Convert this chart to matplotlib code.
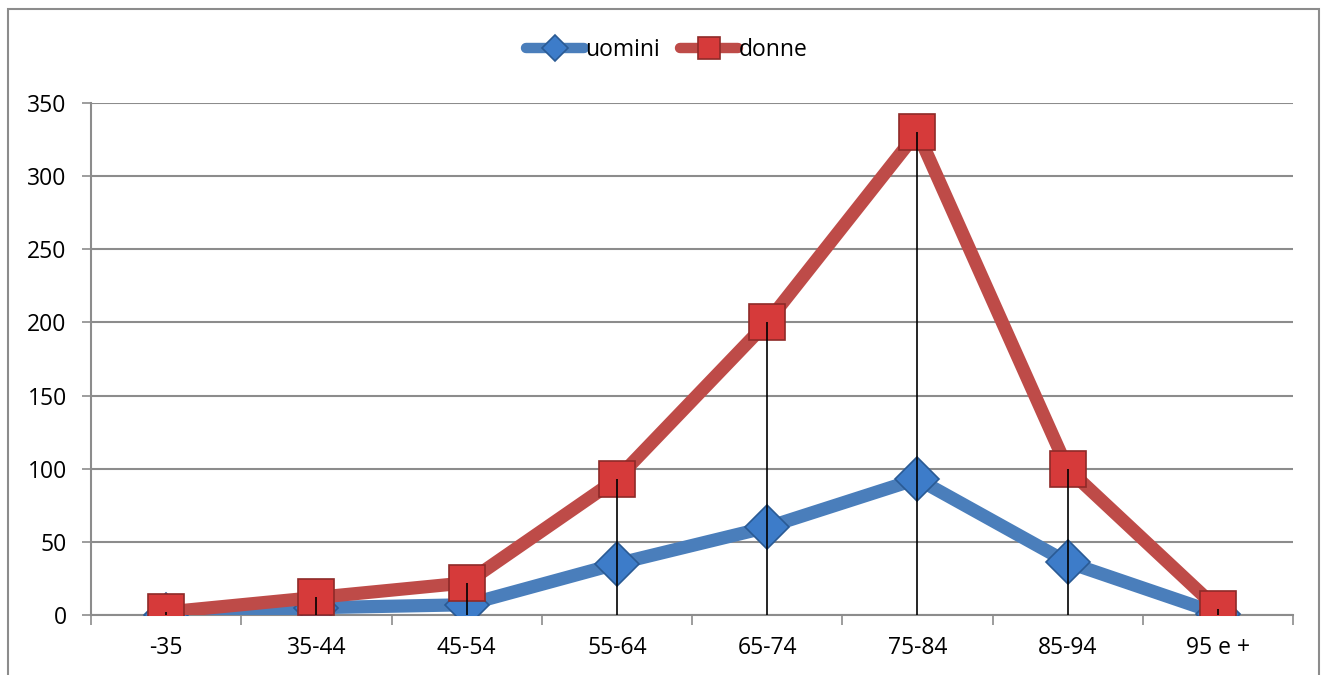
import matplotlib
matplotlib.use("Agg")
import matplotlib.pyplot as plt
from matplotlib.patches import Rectangle
import numpy as np

categories = ["-35", "35-44", "45-54", "55-64", "65-74", "75-84", "85-94", "95 e +"]
uomini = [0, 5, 7, 35, 60, 93, 36, 1]
donne = [2, 12, 22, 93, 200, 330, 100, 4]
yticks = [0, 50, 100, 150, 200, 250, 300, 350]

plt.rcParams['font.family'] = ['Open Sans', 'DejaVu Sans']
fs = 16.5

fig = plt.figure(figsize=(13.28, 6.75), dpi=100)
ax = fig.add_axes([91/1328, 60/675, (1293-91)/1328, (615-103)/675])

x = np.arange(len(categories))
grid_c = "#8c8c8c"

ax.plot(x, uomini, color="#4a7ebb", lw=9.5, solid_capstyle="round", zorder=3,
        marker="D", markersize=22, markerfacecolor="#3d7cc9", markeredgecolor="#2a5a94",
        markeredgewidth=1.2, label="uomini")
ax.plot(x, donne, color="#be4b48", lw=9.5, solid_capstyle="round", zorder=4,
        marker="s", markersize=26, markerfacecolor="#d63a3a", markeredgecolor="#8e2a28",
        markeredgewidth=1.2, label="donne")

tops = np.maximum(uomini, donne)
ax.vlines(x, 0, tops, color="black", lw=1.2, zorder=6)

ax.set_xlim(-0.5, len(categories) - 0.5)
ax.set_ylim(0, 350)
ax.set_yticks(yticks)
ax.set_yticklabels([str(v) for v in yticks], fontsize=fs)
ax.set_xticks(x)
ax.set_xticklabels(categories, fontsize=fs)
ax.set_xticks(np.arange(len(categories) + 1) - 0.5, minor=True)
ax.tick_params(axis="x", which="major", length=0, pad=15)
ax.tick_params(axis="x", which="minor", length=7, width=1.2, color=grid_c, direction="out")
ax.tick_params(axis="y", length=6.5, width=1.2, color=grid_c, direction="out", pad=11)

ax.yaxis.grid(True, color=grid_c, lw=1.5)
ax.set_axisbelow(True)
for s in ["top", "right"]:
    ax.spines[s].set_visible(False)
for s in ["left", "bottom"]:
    ax.spines[s].set_color(grid_c)
    ax.spines[s].set_linewidth(1.5)
ax.spines["bottom"].set_zorder(2)

leg = fig.legend(loc="center", bbox_to_anchor=(667/1328, 1 - 50/675), ncol=2,
                 frameon=False, fontsize=fs, handlelength=2.5, handletextpad=0.05,
                 columnspacing=0.9, markerscale=0.6)
for h in leg.legend_handles:
    h.set_linewidth(7.5)
    h.set_solid_capstyle("round")

fig.patches.append(Rectangle((8/1328, -0.05), (1319-8)/1328, 1.05 - 9/675,
                             transform=fig.transFigure, fill=False,
                             edgecolor="#8c8c8c", lw=1.5))

fig.savefig("out.png", dpi=100)
